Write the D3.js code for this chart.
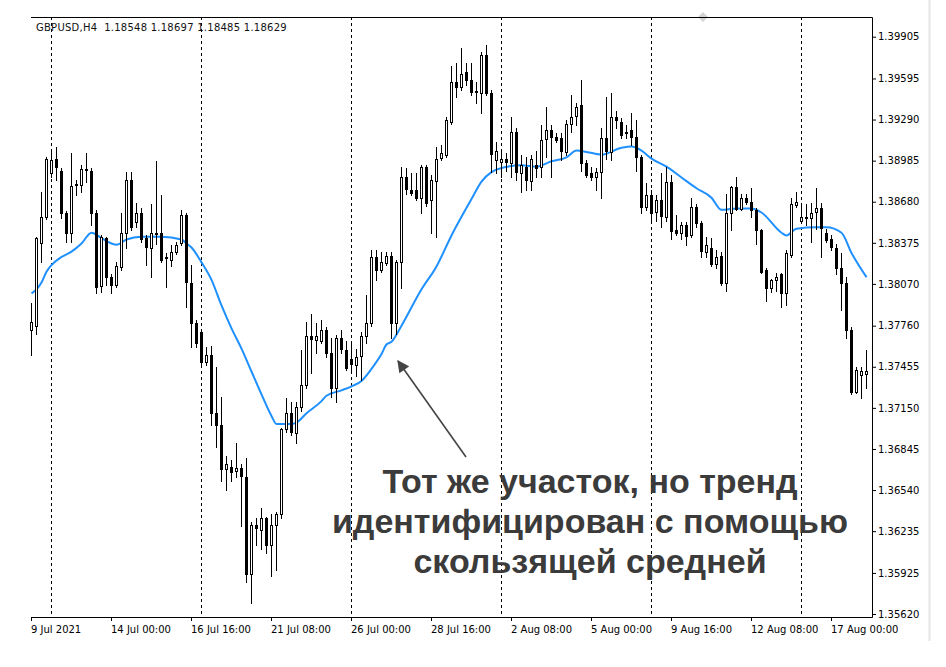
<!DOCTYPE html>
<html><head><meta charset="utf-8">
<script src="https://cdn.jsdelivr.net/npm/d3@7"></script>
<style>body{margin:0;background:#fff}svg{display:block}</style>
</head><body><svg id="c" width="946" height="667"></svg>
<script>
// ---- data (GBPUSD H4) ----
const openP  = [1.3773,1.3776,1.3838,1.3857,1.3889,1.3900,1.3891,1.3860,1.3845,1.3880,1.3880,1.3892,1.3891,1.3860,1.3806,1.3841,1.3812,1.3806,1.3820,1.3845,1.3884,1.3853,1.3860,1.3841,1.3834,1.3845,1.3845,1.3827,1.3825,1.3831,1.3837,1.3858,1.3808,1.3778,1.3771,1.3749,1.3754,1.3711,1.3702,1.3669,1.3671,1.3668,1.3670,1.3664,1.3592,1.3628,1.3624,1.3633,1.3613,1.3628,1.3636,1.3699,1.3711,1.3697,1.3716,1.3732,1.3768,1.3765,1.3765,1.3773,1.3756,1.3730,1.3767,1.3758,1.3751,1.3747,1.3753,1.3768,1.3778,1.3827,1.3817,1.3823,1.3828,1.3778,1.3823,1.3886,1.3877,1.3877,1.3871,1.3894,1.3869,1.3884,1.3900,1.3903,1.3927,1.3957,1.3953,1.3964,1.3958,1.3950,1.3949,1.3977,1.3949,1.3899,1.3898,1.3900,1.3897,1.3920,1.3889,1.3894,1.3884,1.3895,1.3894,1.3914,1.3921,1.3916,1.3915,1.3905,1.3926,1.3931,1.3940,1.3897,1.3889,1.3886,1.3890,1.3915,1.3905,1.3931,1.3927,1.3919,1.3921,1.3916,1.3901,1.3864,1.3873,1.3860,1.3869,1.3857,1.3883,1.3847,1.3845,1.3851,1.3843,1.3864,1.3852,1.3831,1.3834,1.3822,1.3828,1.3808,1.3860,1.3879,1.3863,1.3871,1.3868,1.3862,1.3847,1.3817,1.3804,1.3810,1.3814,1.3800,1.3828,1.3866,1.3854,1.3857,1.3856,1.3860,1.3863,1.3845,1.3840,1.3834,1.3819,1.3808,1.3773,1.3727,1.3739,1.3740];
const highP  = [1.3793,1.3842,1.3875,1.3901,1.3905,1.3909,1.3893,1.3861,1.3904,1.3884,1.3895,1.3904,1.3893,1.3862,1.3843,1.3842,1.3814,1.3823,1.3860,1.3890,1.3890,1.3867,1.3863,1.3843,1.3866,1.3898,1.3873,1.3830,1.3836,1.3838,1.3862,1.3860,1.3821,1.3780,1.3773,1.3760,1.3761,1.3745,1.3723,1.3679,1.3676,1.3689,1.3673,1.3678,1.3630,1.3633,1.3641,1.3634,1.3636,1.3638,1.3700,1.3722,1.3719,1.3719,1.3758,1.3779,1.3785,1.3778,1.3780,1.3775,1.3767,1.3769,1.3773,1.3765,1.3763,1.3759,1.3771,1.3799,1.3832,1.3832,1.3831,1.3831,1.3831,1.3825,1.3894,1.3893,1.3889,1.3889,1.3895,1.3895,1.3888,1.3909,1.3910,1.3931,1.3969,1.3971,1.3982,1.3971,1.3971,1.3957,1.3979,1.3984,1.3951,1.3912,1.3905,1.3904,1.3931,1.3923,1.3903,1.3901,1.3903,1.3906,1.3925,1.3938,1.3925,1.3919,1.3919,1.3929,1.3947,1.3941,1.3958,1.3899,1.3894,1.3893,1.3923,1.3946,1.3949,1.3935,1.3930,1.3925,1.3934,1.3929,1.3903,1.3882,1.3877,1.3873,1.3889,1.3894,1.3888,1.3858,1.3853,1.3853,1.3871,1.3866,1.3854,1.3842,1.3841,1.3832,1.3831,1.3874,1.3880,1.3886,1.3874,1.3874,1.3878,1.3863,1.3848,1.3819,1.3811,1.3815,1.3815,1.3832,1.3871,1.3875,1.3867,1.3866,1.3867,1.3878,1.3867,1.3848,1.3843,1.3837,1.3830,1.3812,1.3775,1.3745,1.3745,1.3758];
const lowP   = [1.3754,1.3770,1.3823,1.3855,1.3886,1.3884,1.3856,1.3838,1.3838,1.3873,1.3875,1.3883,1.3851,1.3800,1.3801,1.3806,1.3800,1.3805,1.3817,1.3834,1.3847,1.3849,1.3838,1.3821,1.3812,1.3837,1.3823,1.3805,1.3820,1.3829,1.3836,1.3790,1.3760,1.3760,1.3747,1.3747,1.3702,1.3686,1.3661,1.3654,1.3661,1.3664,1.3627,1.3586,1.3570,1.3613,1.3610,1.3607,1.3590,1.3595,1.3633,1.3697,1.3695,1.3689,1.3713,1.3730,1.3741,1.3756,1.3763,1.3753,1.3723,1.3719,1.3756,1.3743,1.3741,1.3739,1.3736,1.3763,1.3776,1.3810,1.3816,1.3821,1.3767,1.3770,1.3804,1.3874,1.3873,1.3869,1.3860,1.3865,1.3845,1.3842,1.3899,1.3901,1.3926,1.3946,1.3951,1.3955,1.3947,1.3941,1.3934,1.3947,1.3890,1.3889,1.3886,1.3891,1.3886,1.3884,1.3875,1.3877,1.3877,1.3886,1.3886,1.3901,1.3886,1.3912,1.3899,1.3903,1.3920,1.3925,1.3891,1.3886,1.3884,1.3877,1.3871,1.3900,1.3899,1.3923,1.3915,1.3915,1.3910,1.3891,1.3860,1.3862,1.3853,1.3854,1.3849,1.3854,1.3840,1.3843,1.3840,1.3836,1.3842,1.3849,1.3827,1.3827,1.3820,1.3819,1.3806,1.3802,1.3847,1.3862,1.3862,1.3866,1.3857,1.3837,1.3815,1.3794,1.3801,1.3802,1.3790,1.3791,1.3827,1.3864,1.3852,1.3851,1.3838,1.3848,1.3827,1.3838,1.3832,1.3814,1.3788,1.3767,1.3725,1.3726,1.3722,1.3730];
const closeP = [1.3779,1.3841,1.3857,1.3900,1.3899,1.3894,1.3860,1.3845,1.3880,1.3881,1.3892,1.3891,1.3860,1.3805,1.3842,1.3812,1.3806,1.3820,1.3845,1.3884,1.3849,1.3860,1.3841,1.3834,1.3845,1.3844,1.3825,1.3826,1.3831,1.3836,1.3858,1.3808,1.3778,1.3763,1.3749,1.3754,1.3711,1.3702,1.3669,1.3673,1.3667,1.3670,1.3664,1.3592,1.3628,1.3626,1.3633,1.3613,1.3628,1.3636,1.3699,1.3711,1.3697,1.3716,1.3732,1.3768,1.3766,1.3768,1.3773,1.3756,1.3730,1.3767,1.3759,1.3745,1.3747,1.3753,1.3768,1.3778,1.3827,1.3817,1.3823,1.3828,1.3778,1.3823,1.3886,1.3877,1.3875,1.3871,1.3894,1.3867,1.3884,1.3900,1.3904,1.3929,1.3957,1.3953,1.3963,1.3958,1.3949,1.3949,1.3977,1.3949,1.3904,1.3906,1.3900,1.3898,1.3920,1.3890,1.3895,1.3884,1.3900,1.3893,1.3914,1.3921,1.3916,1.3914,1.3905,1.3926,1.3931,1.3938,1.3897,1.3888,1.3886,1.3890,1.3915,1.3905,1.3931,1.3929,1.3917,1.3920,1.3916,1.3901,1.3864,1.3873,1.3860,1.3869,1.3857,1.3883,1.3847,1.3845,1.3851,1.3843,1.3864,1.3852,1.3831,1.3836,1.3822,1.3827,1.3808,1.3860,1.3879,1.3863,1.3871,1.3868,1.3862,1.3847,1.3816,1.3804,1.3810,1.3812,1.3800,1.3830,1.3866,1.3868,1.3857,1.3856,1.3860,1.3863,1.3848,1.3840,1.3834,1.3819,1.3808,1.3773,1.3727,1.3743,1.3742,1.3742];

// moving average readings (bar index, value)
const maIdx = [0,1,2,3,4,6,8,10,12,14,16,17,19,22,26,30,31,32,34,36,38,40,42,44,46,48,49,50,52,53,55,58,59,62,64,66,68,70,71,72,74,78,81,84,88,90,92,94,98,101,104,107,109,111,114,118,120,122,124,127,130,133,136,138,141,144,146,150,151,153,157,159,162,164,167];
const maVal = [1.3800,1.3803,1.3808,1.3816,1.3821,1.3827,1.3831,1.3837,1.3845,1.3841,1.3837,1.3836,1.3840,1.3842,1.3842,1.3840,1.3837,1.3834,1.3823,1.3810,1.3791,1.3774,1.3759,1.3742,1.3725,1.3709,1.3703,1.3703,1.3703,1.3704,1.3711,1.3720,1.3724,1.3728,1.3731,1.3735,1.3744,1.3755,1.3762,1.3764,1.3776,1.3803,1.3820,1.3843,1.3870,1.3883,1.3890,1.3893,1.3895,1.3894,1.3898,1.3901,1.3906,1.3905,1.3903,1.3908,1.3909,1.3906,1.3900,1.3894,1.3886,1.3878,1.3871,1.3862,1.3863,1.3863,1.3860,1.3845,1.3843,1.3848,1.3849,1.3849,1.3845,1.3830,1.3812];

const xTickIdx = [0,16,32,48,64,80,96,112,128,144,160];
const xTickLabels = ["9 Jul 2021","14 Jul 00:00","16 Jul 16:00","21 Jul 08:00","26 Jul 00:00","28 Jul 16:00","2 Aug 08:00","5 Aug 00:00","9 Aug 16:00","12 Aug 08:00","17 Aug 00:00"];
const weekSepIdx = [4,34,64,94,124,154];
const yTickLabels = ["1.39905","1.39595","1.39290","1.38985","1.38680","1.38375","1.38070","1.37760","1.37455","1.37150","1.36845","1.36540","1.36235","1.35925","1.35620"];
const headerText = "GBPUSD,H4  1.18548 1.18697 1.18485 1.18629";
const noteLines = ["Тот же участок, но тренд","идентифицирован с помощью","скользящей средней"];

// ---- drawing ----
const svg = d3.select("#c");
const L = 31, R = 872, T = 17, B = 617;
const x = d3.scaleLinear().domain([0, 167]).range([31, 866]);
const y = d3.scaleLinear().domain([1.35620, 1.39905]).range([614, 36.7]);
const px = i => Math.round(x(i)) + 0.5;
const FONT = "'DejaVu Sans', Verdana, sans-serif";

svg.append("rect").attr("width",946).attr("height",667).attr("fill","#fff");

// right side light separator
svg.append("line").attr("x1",929.5).attr("x2",929.5).attr("y1",0).attr("y2",641)
  .attr("stroke","#e6e6e6").attr("stroke-width",2);

// small marker at top
svg.append("path").attr("d","M703,12L708,17L703,22L698,17Z").attr("fill","#d4d4d4");

// weekly separators
svg.append("g").selectAll("line").data(weekSepIdx).join("line")
  .attr("x1", d=>px(d)).attr("x2", d=>px(d)).attr("y1", T).attr("y2", B)
  .attr("stroke","#000").attr("stroke-width",1).attr("stroke-dasharray","3,3");

// frame
svg.append("path").attr("d",`M${L},${T+0.5}H${R+0.5}V${B+0.5}H${L}`)
  .attr("fill","none").attr("stroke","#000").attr("stroke-width",1);

// header
svg.append("text").attr("x",36).attr("y",31).attr("font-family",FONT).attr("font-size",10)
  .attr("letter-spacing",0.25)
  .attr("fill","#111").style("white-space","pre").text(headerText);

// moving average
const ma = maIdx.map((d,i)=>({i:d, v:maVal[i]}));
svg.append("path").datum(ma)
  .attr("d", d3.line().x(d=>x(d.i)+0.5).y(d=>y(d.v)).curve(d3.curveMonotoneX))
  .attr("fill","none").attr("stroke","#1e90ff").attr("stroke-width",2);

// candles
const bars = openP.map((o,i)=>({i, o, h:highP[i], l:lowP[i], c:closeP[i]}));
const g = svg.append("g").attr("shape-rendering","crispEdges");
g.selectAll("line.w").data(bars).join("line").attr("class","w")
  .attr("x1", d=>px(d.i)).attr("x2", d=>px(d.i))
  .attr("y1", d=>Math.round(y(d.h))).attr("y2", d=>Math.round(y(d.l))+1)
  .attr("stroke","#000").attr("stroke-width",1);
g.selectAll("rect.b").data(bars).join("rect").attr("class","b")
  .attr("x", d=>px(d.i)-1)
  .attr("width", 2)
  .attr("y", d=>Math.round(Math.min(y(d.o),y(d.c)))+0.5)
  .attr("height", d=>Math.max(1, Math.round(Math.abs(y(d.o)-y(d.c)))))
  .attr("fill", d=> d.c >= d.o ? "#fff" : "#000")
  .attr("stroke","#000").attr("stroke-width",1);

// y axis
const yAxis = d3.axisRight(y).tickValues(yTickLabels.map(Number)).tickSize(4).tickPadding(2)
  .tickFormat((d,i)=>yTickLabels[i]);
const ya = svg.append("g").attr("transform",`translate(${R},0)`).call(yAxis);
ya.select(".domain").remove();
ya.selectAll("text").attr("font-family",FONT).attr("font-size",10).attr("fill","#000");
ya.selectAll("line").attr("stroke","#000");

// x axis
const xAxis = d3.axisBottom(x).tickValues(xTickIdx).tickSize(4).tickFormat((d,i)=>xTickLabels[i]);
const xa = svg.append("g").attr("transform",`translate(0,${B})`).call(xAxis);
xa.select(".domain").remove();
xa.selectAll("text").attr("font-family",FONT).attr("font-size",10).attr("fill","#000")
  .attr("text-anchor","start").attr("x",-0.5).attr("y",9);
xa.selectAll("line").attr("stroke","#000");

// annotation
svg.append("g").selectAll("text").data(noteLines).join("text")
  .attr("x",590).attr("y",(d,i)=>493+i*40)
  .attr("text-anchor","middle")
  .attr("font-family","'Liberation Sans', Arial, sans-serif").attr("font-weight","bold")
  .attr("font-size",34).attr("fill","#3b3b3b").text(d=>d);

// arrow
const defs = svg.append("defs");
defs.append("marker").attr("id","ah").attr("viewBox","0 0 10 10").attr("refX",9).attr("refY",5)
  .attr("orient","auto").attr("markerUnits","userSpaceOnUse")
  .attr("markerWidth",14).attr("markerHeight",12)
  .append("path").attr("d","M0,0L10,5L0,10Z").attr("fill","#444");
svg.append("line").attr("x1",466).attr("y1",457).attr("x2",398).attr("y2",361)
  .attr("stroke","#444").attr("stroke-width",1.6).attr("marker-end","url(#ah)");
</script></body></html>
